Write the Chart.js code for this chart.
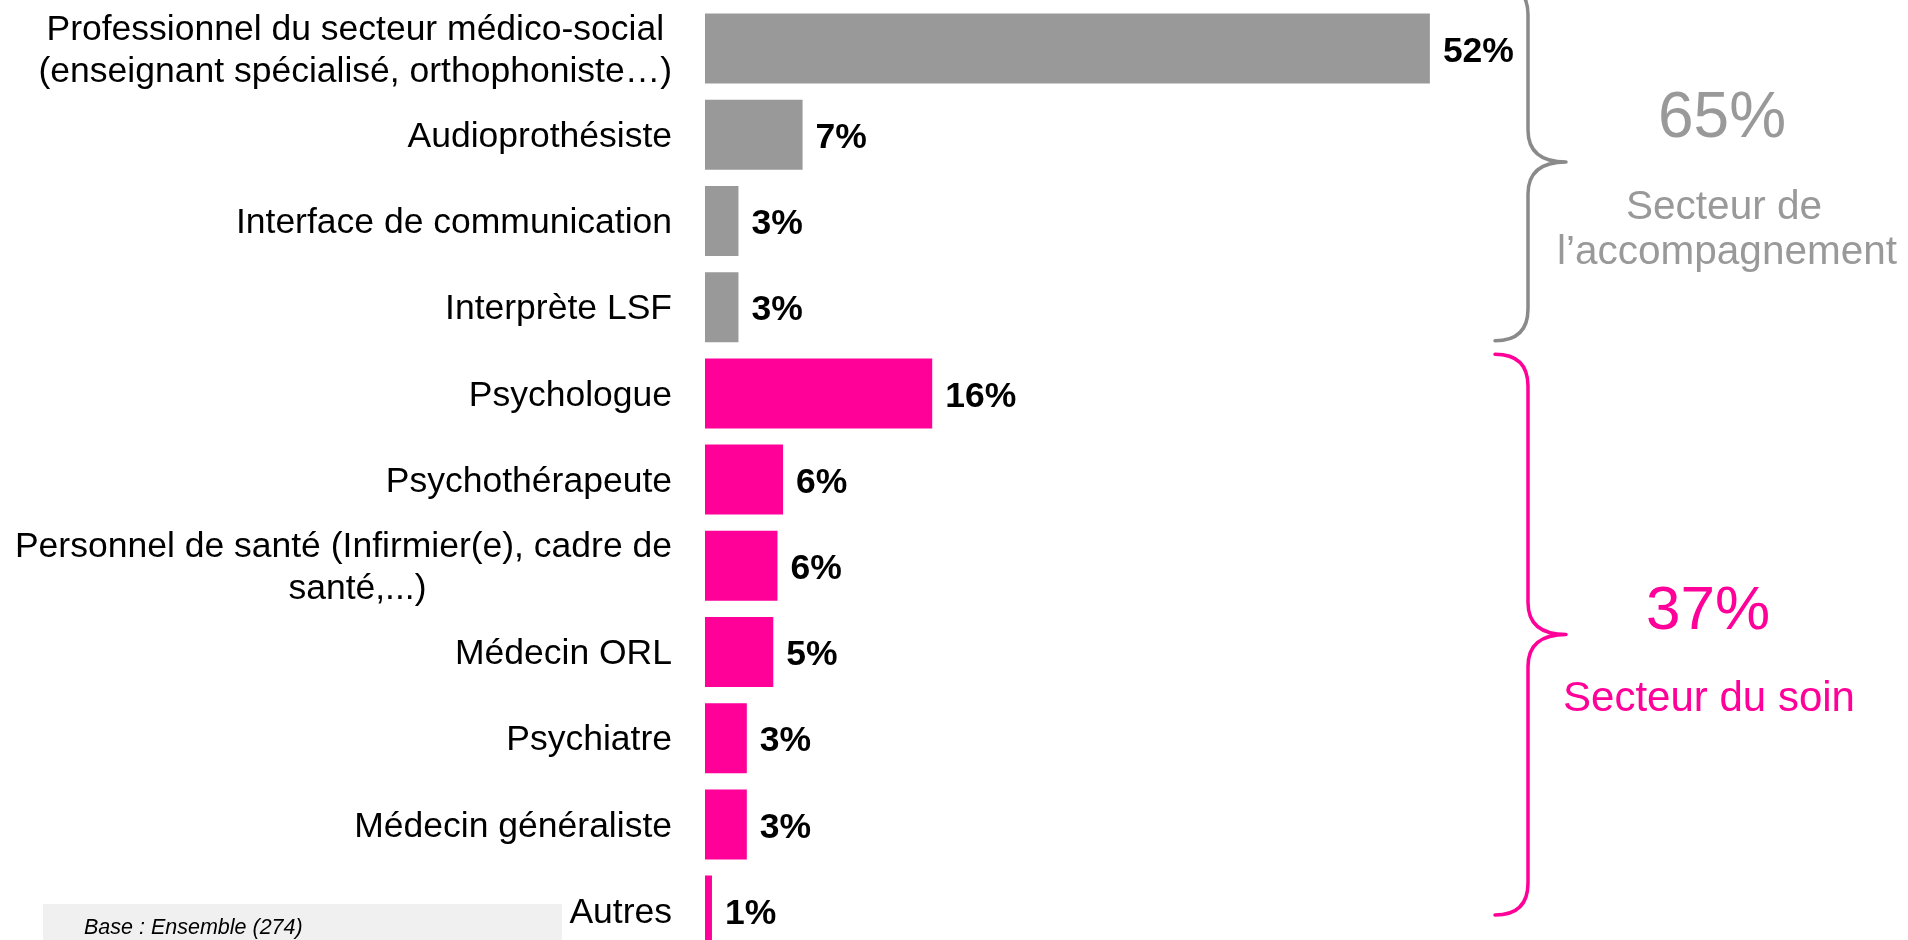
<!DOCTYPE html>
<html>
<head>
<meta charset="utf-8">
<script src="https://cdn.jsdelivr.net/npm/chart.js@4.4.1/dist/chart.umd.min.js"></script>
<style>
  html, body { margin: 0; padding: 0; background: #fff; overflow: hidden; }
  #wrap { position: relative; width: 1908px; height: 940px; overflow: hidden; }
  canvas { display: block; }
</style>
</head>
<body>
<div id="wrap"><canvas id="c" width="1908" height="960"></canvas></div>
<script>
// ---- data ----
const categories = [
  ["Professionnel du secteur médico-social", "(enseignant spécialisé, orthophoniste…)"],
  "Audioprothésiste",
  "Interface de communication",
  "Interprète LSF",
  "Psychologue",
  "Psychothérapeute",
  ["Personnel de santé (Infirmier(e), cadre de", "santé,...)"],
  "Médecin ORL",
  "Psychiatre",
  "Médecin généraliste",
  "Autres"
];
const values = [52, 7.0, 2.4, 2.4, 16.3, 5.6, 5.2, 4.9, 3.0, 3.0, 0.5];
const valueLabels = ["52%", "7%", "3%", "3%", "16%", "6%", "6%", "5%", "3%", "3%", "1%"];
const sectorOfBar = [0, 0, 0, 0, 1, 1, 1, 1, 1, 1, 1];
const sectorTotals = ["65%", "37%"];
const sectorNames = [["Secteur de", "l’accompagnement"], ["Secteur du soin"]];
const baseNote = "Base : Ensemble (274)";

// ---- styles ----
const FONT = '"Liberation Sans", Arial, Helvetica, sans-serif';
const sectorBarColors = ["#999999", "#FF0099"];
const sectorBraceColors = ["#8a8a8a", "#FF0099"];
const sectorTextColors = ["#999999", "#FF0099"];

const overlay = {
  id: 'overlay',
  afterDatasetsDraw(chart) {
    const ctx = chart.ctx;
    const meta = chart.getDatasetMeta(0);
    const yS = chart.scales.y;
    ctx.save();
    // value labels
    ctx.fillStyle = '#000';
    ctx.font = 'bold 35.5px ' + FONT;
    ctx.textAlign = 'left';
    ctx.textBaseline = 'middle';
    meta.data.forEach((el, i) => {
      ctx.fillText(valueLabels[i], el.x + 13, el.y + 3.5);
    });
    // category labels
    ctx.font = '35.5px ' + FONT;
    ctx.textAlign = 'center';
    const rightX = 672, lh = 42.5;
    categories.forEach((c, i) => {
      const lines = Array.isArray(c) ? c : [c];
      const w = Math.max(...lines.map(l => ctx.measureText(l).width));
      const cx = rightX - w / 2;
      const yc = yS.getPixelForValue(i) + 2.5;
      lines.forEach((l, k) => {
        const shift = (k > 0 && lines.length > 1 && ctx.measureText(l).width < w * 0.5) ? 14 : 0;
        ctx.fillText(l, cx + shift, yc + (k - (lines.length - 1) / 2) * lh);
      });
    });
    // braces
    const step = yS.getPixelForValue(1) - yS.getPixelForValue(0);
    const braces = [
      [yS.getPixelForValue(0) - 0.76 * step, yS.getPixelForValue(3) + 0.39 * step],
      [yS.getPixelForValue(4) - 0.455 * step, yS.getPixelForValue(10) + 0.05 * step]
    ];
    const xEnd = 1495, xLine = 1528, xTip = 1566, r = 32;
    braces.forEach((b, s) => {
      const [t, bot] = b;
      const mid = (t + bot) / 2;
      ctx.strokeStyle = sectorBraceColors[s];
      ctx.lineWidth = 3.5;
      ctx.lineCap = 'round';
      ctx.lineJoin = 'round';
      ctx.beginPath();
      ctx.moveTo(xEnd, t);
      ctx.quadraticCurveTo(xLine, t, xLine, t + r);
      ctx.lineTo(xLine, mid - r);
      ctx.quadraticCurveTo(xLine, mid, xTip, mid);
      ctx.quadraticCurveTo(xLine, mid, xLine, mid + r);
      ctx.lineTo(xLine, bot - r);
      ctx.quadraticCurveTo(xLine, bot, xEnd, bot);
      ctx.stroke();
    });
    // sector texts
    ctx.textAlign = 'center';
    ctx.textBaseline = 'alphabetic';
    ctx.fillStyle = sectorTextColors[0];
    ctx.font = '64px ' + FONT;
    ctx.fillText(sectorTotals[0], 1722, 137);
    ctx.font = '40.5px ' + FONT;
    ctx.fillText(sectorNames[0][0], 1724, 219);
    ctx.fillText(sectorNames[0][1], 1727, 264);
    ctx.fillStyle = sectorTextColors[1];
    ctx.font = '62px ' + FONT;
    ctx.fillText(sectorTotals[1], 1708, 629);
    ctx.font = '42px ' + FONT;
    ctx.fillText(sectorNames[1][0], 1709, 711);
    // base note
    ctx.fillStyle = '#f0f0f0';
    ctx.fillRect(43, 904, 519, 60);
    ctx.fillStyle = '#000';
    ctx.textAlign = 'left';
    ctx.font = 'italic 21.5px ' + FONT;
    ctx.fillText(baseNote, 84, 934);
    ctx.restore();
  }
};

new Chart(document.getElementById('c'), {
  type: 'bar',
  data: {
    labels: categories,
    datasets: [{
      data: values,
      backgroundColor: sectorOfBar.map(s => sectorBarColors[s]),
      borderWidth: 0,
      barPercentage: 0.812,
      categoryPercentage: 1.0
    }]
  },
  options: {
    indexAxis: 'y',
    responsive: false,
    animation: false,
    devicePixelRatio: 1,
    layout: { padding: { left: 705, right: 366.6, top: 5.5, bottom: 6.3 } },
    scales: {
      x: { display: false, min: 0, max: 60 },
      y: { display: false }
    },
    plugins: { legend: { display: false }, tooltip: { enabled: false }, title: { display: false } }
  },
  plugins: [overlay]
});
</script>
</body>
</html>
